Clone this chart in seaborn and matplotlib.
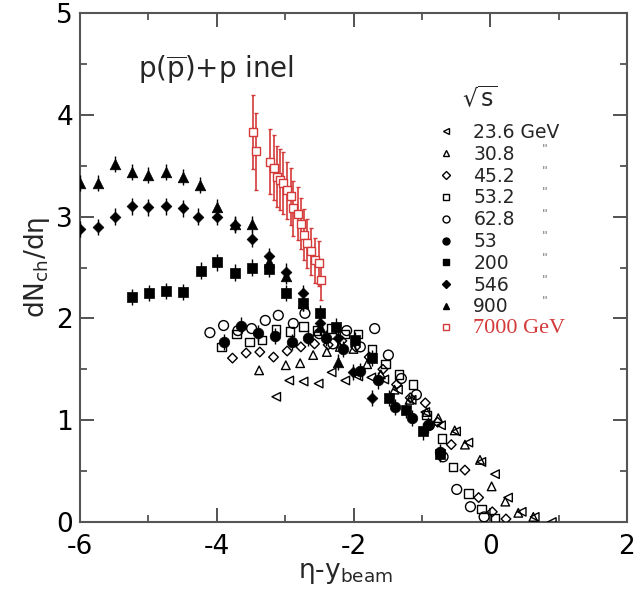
import numpy as np
import pandas as pd
import seaborn as sns
import matplotlib
matplotlib.use("Agg")
import matplotlib.pyplot as plt
from matplotlib.lines import Line2D
from matplotlib.ticker import MultipleLocator, FuncFormatter

# ---------------- data ----------------
x236 = [-3.13, -2.94, -2.73, -2.51, -2.32, -2.12, -1.93, -1.74, -1.55, -1.35, -1.15, -0.95, -0.72, -0.50, -0.32, -0.13, 0.07, 0.26, 0.46, 0.65, 0.90]
y236 = [1.23, 1.39, 1.38, 1.36, 1.47, 1.39, 1.43, 1.42, 1.40, 1.30, 1.20, 1.08, 0.95, 0.89, 0.78, 0.59, 0.47, 0.24, 0.10, 0.05, 0.00]

x308 = [-3.38, -2.99, -2.78, -2.59, -2.39, -2.20, -2.00, -1.80, -1.60, -1.40, -1.18, -0.93, -0.76, -0.52, -0.37, -0.15, 0.02, 0.22, 0.41, 0.63]
y308 = [1.49, 1.54, 1.56, 1.64, 1.67, 1.72, 1.70, 1.55, 1.45, 1.30, 1.20, 1.08, 1.02, 0.90, 0.76, 0.61, 0.35, 0.20, 0.09, 0.05]

x452 = [-3.77, -3.57, -3.37, -3.17, -2.97, -2.77, -2.57, -2.37, -2.17, -1.97, -1.77, -1.57, -1.37, -1.17, -0.95, -0.77, -0.57, -0.37, -0.17, 0.03, 0.23]
y452 = [1.61, 1.66, 1.67, 1.62, 1.68, 1.72, 1.75, 1.74, 1.78, 1.72, 1.62, 1.50, 1.35, 1.22, 1.17, 0.98, 0.76, 0.51, 0.24, 0.10, 0.03]

x532 = [-3.93, -3.71, -3.52, -3.34, -3.13, -2.93, -2.73, -2.53, -2.33, -2.13, -1.93, -1.73, -1.53, -1.33, -1.13, -0.93, -0.71, -0.54, -0.32, -0.13, 0.07]
y532 = [1.72, 1.85, 1.77, 1.79, 1.89, 1.87, 1.92, 1.88, 1.90, 1.85, 1.85, 1.70, 1.55, 1.45, 1.35, 1.05, 0.82, 0.54, 0.28, 0.13, 0.04]

x628 = [-4.10, -3.90, -3.69, -3.49, -3.29, -3.10, -2.88, -2.71, -2.50, -2.30, -2.10, -1.90, -1.69, -1.49, -1.30, -1.08, -0.89, -0.69, -0.49, -0.29, -0.09]
y628 = [1.86, 1.93, 1.88, 1.90, 1.98, 2.03, 1.95, 2.05, 1.85, 1.75, 1.88, 1.72, 1.90, 1.64, 1.41, 1.25, 0.95, 0.64, 0.32, 0.15, 0.05]

x53 = [-3.90, -3.65, -3.40, -3.15, -2.90, -2.66, -2.40, -2.16, -1.90, -1.64, -1.39, -1.15, -0.91, -0.74]
y53 = [1.77, 1.93, 1.86, 1.83, 1.77, 1.81, 1.81, 1.70, 1.48, 1.39, 1.13, 1.02, 0.95, 0.69]

x200 = [-5.24, -4.99, -4.74, -4.49, -4.23, -3.99, -3.74, -3.49, -3.24, -2.98, -2.74, -2.49, -2.25, -1.98, -1.73, -1.48, -1.23, -0.98, -0.73]
y200 = [2.21, 2.25, 2.27, 2.26, 2.47, 2.55, 2.45, 2.50, 2.49, 2.25, 2.15, 2.05, 1.92, 1.79, 1.61, 1.22, 1.10, 0.89, 0.67]

x546 = [-6.00, -5.74, -5.49, -5.24, -5.00, -4.74, -4.49, -4.27, -3.99, -3.73, -3.49, -3.24, -2.99, -2.74, -2.49, -2.23, -2.01, -1.73]
y546 = [2.88, 2.90, 3.00, 3.10, 3.09, 3.10, 3.08, 3.00, 3.00, 2.92, 2.78, 2.61, 2.46, 2.25, 1.95, 1.81, 1.47, 1.22]

x900 = [-6.00, -5.74, -5.49, -5.24, -5.00, -4.74, -4.49, -4.24, -3.99, -3.73, -3.49, -3.24, -2.99, -2.74, -2.49, -2.23]
y900 = [3.33, 3.33, 3.52, 3.44, 3.41, 3.44, 3.39, 3.31, 3.09, 2.93, 2.93, 2.55, 2.42, 2.15, 1.92, 1.57]

x7000 = [-3.47, -3.43, -3.22, -3.17, -3.12, -3.07, -3.03, -2.97, -2.92, -2.88, -2.81, -2.77, -2.72, -2.68, -2.62, -2.56, -2.51, -2.47]
y7000 = [3.83, 3.64, 3.54, 3.48, 3.39, 3.36, 3.33, 3.26, 3.20, 3.08, 3.03, 2.93, 2.82, 2.74, 2.66, 2.57, 2.54, 2.38]
e7000 = [0.36, 0.38, 0.32, 0.32, 0.30, 0.30, 0.30, 0.28, 0.28, 0.27, 0.26, 0.25, 0.25, 0.24, 0.23, 0.22, 0.22, 0.20]

legend_labels = ["23.6 GeV", "30.8", "45.2", "53.2", "62.8", "53", "200", "546", "900", "7000 GeV"]
RED = "#d43a3a"

# ---------------- figure ----------------
sns.set_theme(style="ticks")
plt.rcParams["font.family"] = ["DejaVu Sans"]
plt.rcParams["mathtext.fontset"] = "dejavusans"

fig = plt.figure(figsize=(6.35, 5.94), dpi=100)
ax = fig.add_axes([80 / 635, 72 / 594, 547 / 635, 509 / 594])

open_series = [(x236, y236, "<"), (x308, y308, "^"), (x452, y452, "D"),
               (x532, y532, "s"), (x628, y628, "o")]
open_sizes = {"<": 38, "^": 38, "D": 24, "s": 36, "o": 50}
for xs, ys, m in open_series:
    sns.scatterplot(x=xs, y=ys, marker=m, s=open_sizes[m], facecolors="none",
                    edgecolors="black", linewidths=1.0, ax=ax, zorder=3)

filled_series = [(x53, y53, "o", 58), (x200, y200, "s", 42), (x546, y546, "D", 30), (x900, y900, "^", 58)]
for xs, ys, m, sz in filled_series:
    ax.errorbar(xs, ys, yerr=0.08, fmt="none", ecolor="black", elinewidth=1.0, zorder=3)
    sns.scatterplot(x=xs, y=ys, marker=m, s=sz, color="black", edgecolor="black",
                    linewidth=0.5, ax=ax, zorder=4)

ax.errorbar(x7000, y7000, yerr=e7000, fmt="none", ecolor=RED, elinewidth=1.2,
            capsize=1.5, capthick=1.0, zorder=5)
sns.scatterplot(x=x7000, y=y7000, marker="s", s=30, facecolors="white",
                edgecolors=RED, linewidths=1.0, ax=ax, zorder=6)

ax.set_xlim(-6, 2)
ax.set_ylim(0, 5)
ax.xaxis.set_major_locator(MultipleLocator(2))
ax.xaxis.set_minor_locator(MultipleLocator(1))
ax.yaxis.set_major_locator(MultipleLocator(1))
ax.yaxis.set_minor_locator(MultipleLocator(0.5))
ax.xaxis.set_major_formatter(FuncFormatter(lambda v, p: f"{v:.0f}"))
ax.yaxis.set_major_formatter(FuncFormatter(lambda v, p: f"{v:.0f}"))
ax.tick_params(which="both", top=True, right=True)
ax.tick_params(which="major", direction="in", length=10, width=1.3, colors="#444444",
               labelsize=19, labelcolor="black", pad=5)
ax.tick_params(axis="x", which="major", pad=9)
ax.tick_params(which="minor", direction="in", length=5, width=1.2, colors="#444444")
for sp in ax.spines.values():
    sp.set_linewidth(1.5)
    sp.set_color("#555555")

ax.set_xlabel("η-y$_{\\mathrm{beam}}$", fontsize=19, labelpad=0)
ax.xaxis.set_label_coords(0.485, -0.075)
ax.set_ylabel("dN$_{\\mathrm{ch}}$/dη", fontsize=19, labelpad=3)

ax.text(-5.15, 4.44, r"p($\overline{\mathrm{p}}$)+p inel", fontsize=20, ha="left", va="center")
ax.text(-0.42, 4.15, r"$\sqrt{\mathrm{s}}$", fontsize=17, ha="left", va="center")

# legend
markers = ["<", "^", "D", "s", "o", "o", "s", "D", "^", "s"]
filled = [False] * 5 + [True] * 4 + [False]
handles = []
for m, f, lab in zip(markers, filled, legend_labels):
    ec = RED if lab.startswith("7000") else "black"
    handles.append(Line2D([], [], ls="none", marker=m,
                          markersize=5 if m != "D" else 4,
                          markerfacecolor=("black" if f else "none"),
                          markeredgecolor=ec, markeredgewidth=1.0))
LFS = 13.5
leg = ax.legend(handles, legend_labels, loc="upper left",
                bbox_to_anchor=((437 - 80) / 547, (522 - 123) / 509),
                frameon=False, fontsize=LFS, labelspacing=0.15,
                handlelength=1.0, handletextpad=0.94, borderpad=0, borderaxespad=0)
texts = leg.get_texts()
texts[-1].set_color(RED)
texts[-1].set_fontfamily("Liberation Serif")
texts[-1].set_fontsize(16)

fig.canvas.draw()
inv = ax.transAxes.inverted()
for t in texts[1:9]:
    bb = t.get_window_extent()
    yc = inv.transform((0, (bb.y0 + bb.y1) / 2))[1]
    ax.text((545 - 80) / 547, yc + 0.01, '"', transform=ax.transAxes, fontsize=9,
            color="#777777", ha="center", va="center")

fig.savefig("out.png", dpi=100)
